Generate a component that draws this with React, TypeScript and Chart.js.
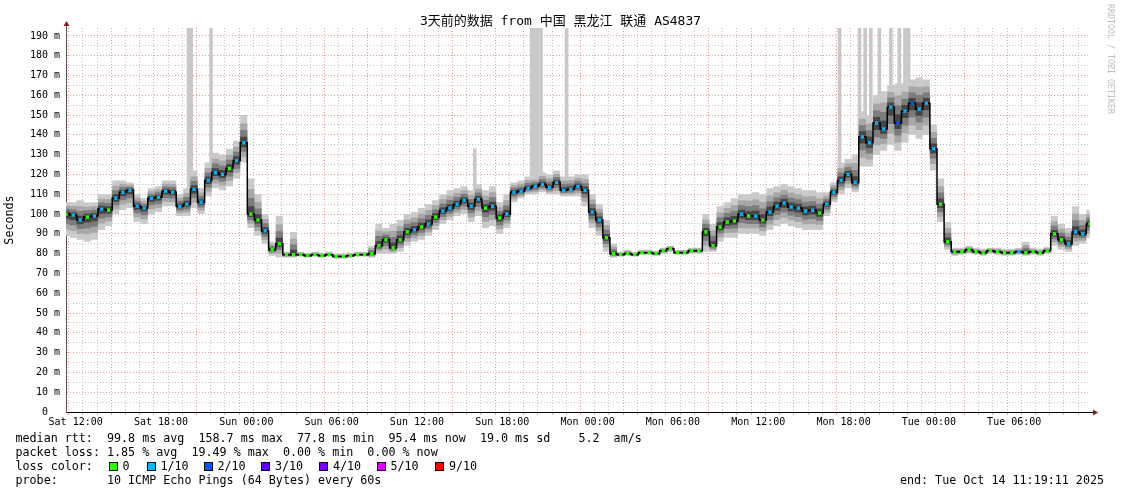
import React, { useEffect, useRef } from 'react';
import { Chart, registerables } from 'chart.js';

Chart.register(...registerables);

// time axis: hours since Sat 00:00
const startHour = 11.32; // Sat 11:19
const endHour = 83.33; // Tue 11:19
const stepHours = 0.5;
const dayNames = ['Sat', 'Sun', 'Mon', 'Tue'];

const titleText = '3天前的数据 from 中国 黑龙江 联通 AS4837';
const yTitle = 'Seconds';

const median = [
  100, 99.5, 97, 98.5, 99, 102.5, 102, 108, 111, 112,
  104, 103, 108, 108.5, 111.5, 111, 104, 105, 112.5, 106,
  117, 121, 120, 123, 127, 136, 100, 97, 91.5, 82,
  85, 79.5, 79.5, 79.5, 79, 79.5, 79, 79.5, 78.5, 78.5,
  79, 79.5, 79.5, 80, 84, 87, 83, 87, 91, 92,
  93.5, 95, 98.5, 101.5, 103, 105, 107, 104, 107.5, 103,
  104, 98, 100, 111, 111.5, 113, 114, 115, 113.5, 116,
  112, 112.5, 114, 112, 101, 97, 88, 80, 79.5, 80,
  79.5, 80.5, 80.5, 80, 81.5, 82.5, 80.5, 80.5, 81.5, 81.5,
  91, 84, 93.5, 96, 96.5, 100, 99, 99, 97, 101,
  104, 105.5, 103.5, 103, 101.5, 102, 100.5, 105, 111, 117,
  120, 116, 139, 136, 146, 143, 154, 146, 152, 156,
  153, 156, 133, 105, 86, 81, 81, 82, 81, 80.5,
  81.5, 81, 80.5, 80.5, 81, 80.5, 81, 80.5, 81.5, 90,
  87, 85, 91, 90, 95,
];

const smokeLow = [
  89, 88, 87, 86, 87, 92, 94, 100, 102, 103,
  96, 95, 100, 101, 104, 104, 99, 99, 103, 100,
  109, 113, 112, 114, 118, 126, 93, 89, 85, 79,
  78, 78, 78, 78.5, 78, 78.5, 78, 78.5, 77.5, 77.5,
  78, 78.5, 78.5, 78, 80, 80, 80, 81, 84, 86,
  87, 89, 92, 95, 97, 99, 100, 96, 99, 93,
  94, 90, 93, 106, 108, 110, 110, 111, 110, 110,
  109, 109, 109, 104, 93, 89, 81, 78, 78.5, 79,
  78.5, 79.5, 79.5, 79, 80, 81, 79.5, 79.5, 80, 80,
  81, 81, 86, 88, 88, 90, 90, 90, 89, 92,
  94, 95, 94, 93, 92, 92, 92, 99, 106, 110,
  113, 111, 124, 124, 130, 132, 135, 132, 136, 140,
  138, 140, 122, 96, 82, 79, 79.5, 80, 79.5, 79,
  80, 79.5, 79, 79, 79.5, 79, 79.5, 79, 80, 84,
  82, 81, 84, 85, 88,
];

const smokeHigh = [
  106, 106, 107, 106, 106, 110, 110, 117, 117, 116,
  110, 108, 113, 114, 117, 117, 110, 113, 122, 113,
  126, 131, 130, 133, 137, 150, 118, 110, 100, 86,
  99, 81, 91, 81, 80.5, 81, 80.5, 81, 80, 80,
  80.5, 81, 81, 84, 95, 93, 95, 97, 100, 101,
  103, 105, 107, 110, 112, 113, 114, 112, 115, 112,
  114, 106, 110, 116, 117, 119, 119, 121, 120, 122,
  119, 119, 120, 120, 110, 105, 97, 85, 81, 82,
  81, 82, 82, 81.5, 83, 84, 82, 82, 83, 83,
  100, 95, 104, 106, 108, 110, 110, 111, 110, 113,
  114, 115, 114, 113, 112, 112, 111, 111, 116, 126,
  128, 130, 152, 150, 160, 162, 165, 166, 166, 168,
  169, 168, 145, 118, 96, 83, 83, 84, 83, 82.5,
  83, 83, 82.5, 82.5, 83, 86, 83, 82.5, 83.5, 99,
  95, 93, 104, 100, 102,
];

// packet loss per step (index into lossColors)
const lossLevel = [
  0, 1, 1, 0, 1, 1, 0, 1, 1, 1,
  1, 1, 1, 1, 1, 1, 1, 1, 1, 1,
  1, 1, 1, 0, 1, 1, 0, 0, 1, 0,
  0, 0, 0, 0, 0, 0, 0, 0, 0, 0,
  0, 0, 0, 0, 0, 0, 0, 0, 0, 1,
  0, 1, 0, 1, 1, 1, 1, 1, 1, 0,
  1, 0, 1, 1, 1, 1, 1, 1, 1, 1,
  1, 1, 1, 1, 1, 1, 0, 0, 0, 0,
  0, 0, 0, 0, 0, 0, 0, 0, 0, 0,
  0, 0, 0, 0, 0, 1, 0, 1, 0, 1,
  1, 1, 1, 1, 1, 1, 0, 1, 1, 1,
  1, 1, 1, 1, 1, 1, 1, 2, 1, 2,
  1, 1, 1, 0, 0, 0, 0, 0, 0, 0,
  0, 0, 0, 0, 1, 0, 0, 0, 0, 0,
  0, 1, 1, 1, 0,
];

// tall single-ping outliers (hours since start, top value in ms)
const spikeHours = [8.62, 8.8, 10.2, 28.75, 32.75, 32.95, 33.15, 33.4, 35.2, 54.4, 55.8, 56.2, 56.6, 57.2, 58.0, 58.6, 59.0, 59.25];
const spikeTops = [194, 194, 194, 133, 194, 194, 194, 194, 194, 194, 194, 194, 194, 194, 194, 194, 194, 194];

const lossColors = ['#26ff00', '#00b8ff', '#0059ff', '#5e00ff', '#7e00ff', '#dd00ff', '#ff0000'];
const lossLabels = ['0', '1/10', '2/10', '3/10', '4/10', '5/10', '9/10'];

const yMax = 194;

const legendRtt = 'median rtt:  99.8 ms avg  158.7 ms max  77.8 ms min  95.4 ms now  19.0 ms sd    5.2  am/s';
const legendLoss = 'packet loss: 1.85 % avg  19.49 % max  0.00 % min  0.00 % now';
const legendColorLabel = 'loss color:';
const legendProbe = 'probe:       10 ICMP Echo Pings (64 Bytes) every 60s';
const legendEnd = 'end: Tue Oct 14 11:19:11 2025';
const watermark = 'RRDTOOL / TOBI OETIKER';

const MONO = "'DejaVu Sans Mono', 'Noto Sans CJK SC', monospace";

const smokeLayers = [
  { f: 1.0, color: '#cacaca' },
  { f: 0.7, color: '#a8a8a8' },
  { f: 0.45, color: '#7c7c7c' },
  { f: 0.22, color: '#454545' },
];

const MAJOR = 'rgba(240,110,110,0.7)';
const MINOR = 'rgba(170,170,170,0.7)';

function xAt(i: number) {
  return startHour + i * stepHours;
}

const arrowPlugin = {
  id: 'rrdArrows',
  afterDraw(chart: any) {
    const { ctx, chartArea } = chart;
    const { left, right, top, bottom } = chartArea;
    ctx.save();
    ctx.strokeStyle = '#000';
    ctx.lineWidth = 1;
    ctx.beginPath();
    ctx.moveTo(right, Math.round(bottom) + 0.5);
    ctx.lineTo(right + 4, Math.round(bottom) + 0.5);
    ctx.stroke();
    ctx.strokeStyle = '#555';
    ctx.beginPath();
    ctx.moveTo(Math.round(left) + 0.5, top);
    ctx.lineTo(Math.round(left) + 0.5, top - 3);
    ctx.stroke();
    ctx.fillStyle = '#8b1a1a';
    ctx.beginPath();
    ctx.moveTo(right + 8, bottom + 0.5);
    ctx.lineTo(right + 3, bottom - 2.5);
    ctx.lineTo(right + 3, bottom + 3.5);
    ctx.closePath();
    ctx.fill();
    ctx.beginPath();
    ctx.moveTo(left + 0.5, top - 7);
    ctx.lineTo(left - 2.5, top - 2);
    ctx.lineTo(left + 3.5, top - 2);
    ctx.closePath();
    ctx.fill();
    ctx.restore();
  },
};

function tickVal(c: any): number | null {
  if (!c || !c.tick) return null;
  return Math.round(Number(c.tick.value));
}

export default function App() {
  const canvasRef = useRef<HTMLCanvasElement | null>(null);

  useEffect(() => {
    document.body.style.margin = '0';
    const canvas = canvasRef.current;
    if (!canvas) return;

    const datasets: any[] = [];

    // spikes
    datasets.push({
      type: 'bar',
      data: spikeHours.map((h, k) => {
        const idx = Math.min(median.length - 1, Math.round(h / stepHours));
        return { x: startHour + h, y: [median[idx], spikeTops[k]] };
      }),
      backgroundColor: '#c8c8c8',
      borderWidth: 0,
      barThickness: 3,
      grouped: false,
      order: 30,
    });

    smokeLayers.forEach((layer, k) => {
      datasets.push({
        type: 'line',
        data: median.map((m, i) => ({ x: xAt(i), y: m + (smokeHigh[i] - m) * layer.f })),
        borderWidth: 0,
        borderColor: 'rgba(0,0,0,0)',
        backgroundColor: layer.color,
        pointRadius: 0,
        stepped: 'middle',
        fill: '+1',
        order: 20 - k,
      });
      datasets.push({
        type: 'line',
        data: median.map((m, i) => ({ x: xAt(i), y: m - (m - smokeLow[i]) * layer.f })),
        borderWidth: 0,
        borderColor: 'rgba(0,0,0,0)',
        backgroundColor: layer.color,
        pointRadius: 0,
        stepped: 'middle',
        fill: false,
        order: 20 - k,
      });
    });

    datasets.push({
      type: 'line',
      data: median.map((m, i) => ({ x: xAt(i), y: m })),
      borderColor: '#000',
      borderWidth: 1.5,
      stepped: 'middle',
      fill: false,
      pointStyle: 'rect',
      pointRadius: 2.3,
      pointBorderWidth: 0,
      pointBackgroundColor: lossLevel.map((l) => lossColors[l]),
      order: 0,
    });

    const chart = new Chart(canvas, {
      type: 'line',
      data: { datasets },
      plugins: [arrowPlugin],
      options: {
        responsive: false,
        animation: false,
        events: [],
        layout: { padding: { top: 28, right: 31, left: 0, bottom: 0 } },
        plugins: {
          legend: { display: false },
          tooltip: { enabled: false },
          title: { display: false },
        },
        scales: {
          x: {
            type: 'linear',
            min: startHour,
            max: endHour,
            offset: false,
            afterFit: (s: any) => {
              s.height = 82;
            },
            ticks: {
              stepSize: 1,
              autoSkip: false,
              includeBounds: false,
              maxRotation: 0,
              minRotation: 0,
              padding: 1,
              color: '#000',
              font: { family: MONO, size: 10 },
              callback: (v: any) => {
                const n = Math.round(Number(v));
                if (n % 6 !== 0) return '';
                const d = dayNames[Math.floor(n / 24)] || '';
                const hh = String(n % 24).padStart(2, '0');
                return `${d} ${hh}:00`;
              },
            },
            grid: {
              color: (c: any) => {
                const n = tickVal(c);
                return n !== null && n % 3 === 0 ? MAJOR : MINOR;
              },
              tickColor: (c: any) => {
                const n = tickVal(c);
                return n !== null && n % 3 === 0 ? MAJOR : MINOR;
              },
              lineWidth: 1,
              tickLength: 3,
              drawTicks: true,
            },
            border: { display: true, color: '#000', width: 1, dash: [1, 2] },
          },
          y: {
            type: 'linear',
            min: 0,
            max: yMax,
            afterFit: (s: any) => {
              s.width = 66;
            },
            ticks: {
              stepSize: 5,
              autoSkip: false,
              includeBounds: false,
              padding: 6,
              color: '#000',
              font: { family: MONO, size: 10 },
              callback: (v: any) => {
                const n = Math.round(Number(v));
                if (n % 10 !== 0) return '';
                return n === 0 ? '0  ' : `${n} m`;
              },
            },
            grid: {
              color: (c: any) => {
                const n = tickVal(c);
                return n !== null && n % 10 === 0 ? MAJOR : MINOR;
              },
              lineWidth: 1,
              drawTicks: false,
            },
            border: { display: true, color: '#555', width: 1, dash: [1, 2] },
            title: {
              display: true,
              text: yTitle,
              color: '#000',
              font: { family: MONO, size: 11.7 },
              padding: { top: 3, bottom: 0 },
            },
          },
        },
      },
    } as any);

    return () => chart.destroy();
  }, []);

  const lineStyle: React.CSSProperties = {
    position: 'absolute',
    left: 15.5,
    fontFamily: MONO,
    fontSize: 11.7,
    lineHeight: '14px',
    whiteSpace: 'pre',
    color: '#000',
  };

  const boxX = [109, 147, 204, 261, 319, 377, 435];
  const labelX = [122.5, 160.5, 217.5, 275, 333, 390.5, 449];

  return (
    <div style={{ position: 'relative', width: 1121, height: 494, overflow: 'hidden', background: '#fff' }}>
      <canvas ref={canvasRef} width={1121} height={494} style={{ position: 'absolute', left: 0, top: 0, width: 1121, height: 494 }} />
      <div
        style={{
          position: 'absolute',
          left: 0,
          top: 13,
          width: 1121,
          textAlign: 'center',
          fontFamily: MONO,
          fontSize: 13,
          lineHeight: '16px',
          whiteSpace: 'pre',
          color: '#000',
        }}
      >
        {titleText}
      </div>
      <div
        style={{
          position: 'absolute',
          left: 1106,
          top: 4,
          writingMode: 'vertical-rl',
          fontFamily: MONO,
          fontSize: 8.3,
          lineHeight: '10px',
          color: '#bdbdbd',
          whiteSpace: 'pre',
        }}
      >
        {watermark}
      </div>
      <div style={{ ...lineStyle, top: 431 }}>{legendRtt}</div>
      <div style={{ ...lineStyle, top: 445 }}>{legendLoss}</div>
      <div style={{ ...lineStyle, top: 459 }}>{legendColorLabel}</div>
      {lossLabels.map((lab, k) => (
        <React.Fragment key={lab}>
          <div
            style={{
              position: 'absolute',
              left: boxX[k],
              top: 462,
              width: 7,
              height: 7,
              border: '1px solid #000',
              background: lossColors[k],
            }}
          />
          <div style={{ ...lineStyle, left: labelX[k], top: 459 }}>{lab}</div>
        </React.Fragment>
      ))}
      <div style={{ ...lineStyle, top: 473 }}>{legendProbe}</div>
      <div style={{ ...lineStyle, left: 'auto', right: 17, top: 473 }}>{legendEnd}</div>
    </div>
  );
}
